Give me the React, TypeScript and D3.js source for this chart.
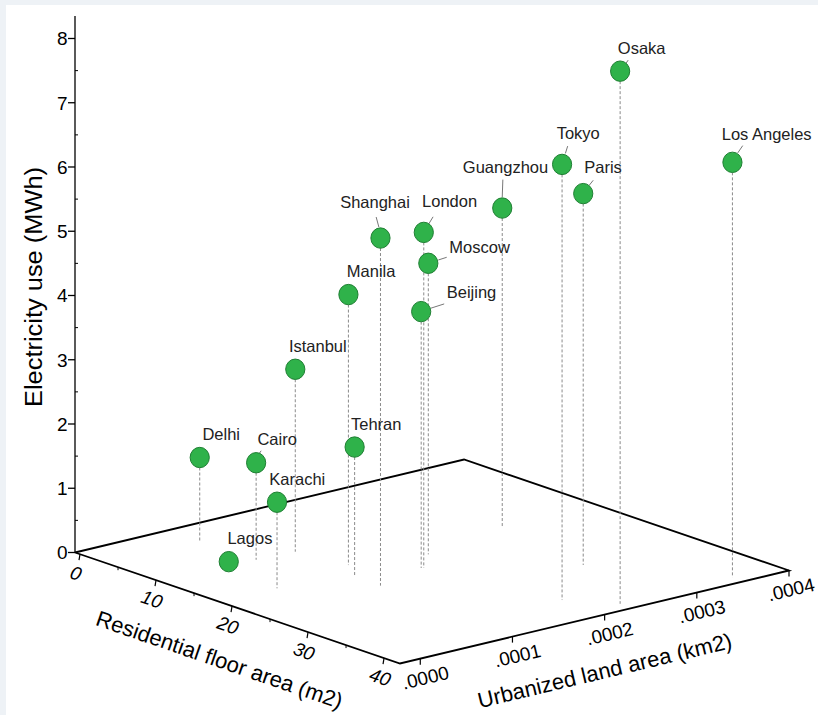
import React from "react";
import * as d3 from "d3";

// ---- data ----
const cities = ["Osaka", "Los Angeles", "Tokyo", "Paris", "Guangzhou", "London", "Moscow", "Beijing", "Shanghai", "Manila", "Istanbul", "Tehran", "Delhi", "Cairo", "Karachi", "Lagos"];
const floorArea = [40.5, 40.6, 36.5, 29.7, 16.5, 21.7, 18.9, 21.6, 23.4, 17.0, 11.1, 20.0, 3.5, 10.8, 18.4, 11.2];
const landArea = [0.00023, 0.000351, 0.0002, 0.000279, 0.0003, 0.000172, 0.0002, 0.00017, 0.000111, 0.000129, 0.00012, 0.000111, 0.000079, 0.00008, 0.00004, 0.000047];
const electricity = [8.29, 6.46, 6.78, 5.78, 4.95, 5.22, 4.53, 3.99, 5.41, 4.21, 2.84, 2.02, 1.3, 1.51, 1.34, 0.1];

const zTicks = [0, 1, 2, 3, 4, 5, 6, 7, 8];
const floorTicks = [0, 10, 20, 30, 40];
const landTicks = [0, 0.0001, 0.0002, 0.0003, 0.0004];
const landTickLabels = [".0000", ".0001", ".0002", ".0003", ".0004"];

// label layout (offsets from point, px): text start dx, baseline dy, optional leader
const labelLayout: { dx: number; dy: number; leader?: number[] }[] = [
  { dx: -2.3, dy: -16.7, leader: [6, -8, 8, -11] },
  { dx: -10.7, dy: -22.7, leader: [5.3, -9.4, 10.3, -16.7] },
  { dx: -5.4, dy: -25.3, leader: [3.3, -11, 5.6, -18.3] },
  { dx: 1, dy: -20.6, leader: [6, -8.3, 10, -13.3] },
  { dx: -39.4, dy: -35, leader: [0, -11, 0.6, -28.4] },
  { dx: -1.7, dy: -25, leader: [4.3, -7.3, 9.3, -15.6] },
  { dx: 21, dy: -10.6, leader: [10, -3.3, 18.4, -6] },
  { dx: 25.6, dy: -13.4, leader: [9.6, -3.4, 23, -7.7] },
  { dx: -40.3, dy: -30.4, leader: [-1.6, -11, -4.3, -21] },
  { dx: -1.6, dy: -17.6 },
  { dx: -6.4, dy: -17.6 },
  { dx: -3.6, dy: -16.7 },
  { dx: 2.7, dy: -17.3 },
  { dx: 1.3, dy: -17.7, leader: [3, -9, 5, -12] },
  { dx: -7.7, dy: -17.3 },
  { dx: -1.3, dy: -17.7 },
];

// ---- projection ----
const O = { x: 75, y: 552.5 };
const F = { x: 325, y: 111 };
const L = { x: 389, y: -93 };
const fScale = d3.scaleLinear().domain([-0.66, 42.1]).range([0, 1]);
const lScale = d3.scaleLinear().domain([-0.000022, 0.0004]).range([0, 1]);
const zScale = d3.scaleLinear().domain([0, 8.35]).range([0, 536.5]);

function proj(f: number, l: number, z: number): [number, number] {
  const u = fScale(f);
  const v = lScale(l);
  return [O.x + u * F.x + v * L.x, O.y + u * F.y + v * L.y - zScale(z)];
}

const FONT = "'Liberation Sans', Arial, Helvetica, sans-serif";

export default function App() {
  const fMin = fScale.domain()[0], fMax = fScale.domain()[1];
  const lMin = lScale.domain()[0], lMax = lScale.domain()[1];
  const c00 = proj(fMin, lMin, 0);
  const c10 = proj(fMax, lMin, 0);
  const c11 = proj(fMax, lMax, 0);
  const c01 = proj(fMin, lMax, 0);
  const zTop = proj(fMin, lMin, zScale.domain()[1]);
  const floorPath = d3.line()([c00, c10, c11, c01, c00]);

  const pts = cities.map((c, i) => ({
    name: c,
    top: proj(floorArea[i], landArea[i], electricity[i]),
    bot: proj(floorArea[i], landArea[i], 0),
    lay: labelLayout[i],
  }));

  const zMinor = d3.range(0.5, 8.5, 1);
  const fMinor = [5, 15, 25, 35];

  return (
    <svg width={818} height={715} style={{ position: "absolute", left: 0, top: 0 }} fontFamily={FONT}>
      <rect x={0} y={0} width={818} height={715} fill="#eef2f6" />
      <rect x={6} y={5} width={812} height={710} fill="#ffffff" />

      {/* floor outline */}
      <path d={floorPath || ""} fill="none" stroke="#000" strokeWidth={1.8} strokeLinejoin="miter" />

      {/* z axis */}
      <line x1={c00[0]} y1={c00[1]} x2={zTop[0]} y2={zTop[1]} stroke="#000" strokeWidth={1.3} />
      {zTicks.map((t) => {
        const p = proj(fMin, lMin, t);
        return (
          <g key={"zt" + t}>
            <line x1={p[0] - 7} y1={p[1]} x2={p[0]} y2={p[1]} stroke="#000" strokeWidth={1.3} />
            <text x={p[0] - 7.5} y={p[1]} dy="0.36em" textAnchor="end" fontSize={19} fill="#000">
              {t}
            </text>
          </g>
        );
      })}
      {zMinor.map((t) => {
        const p = proj(fMin, lMin, t);
        return <line key={"zm" + t} x1={p[0]} y1={p[1]} x2={p[0] + 3} y2={p[1]} stroke="#000" strokeWidth={1} />;
      })}

      {/* floor area axis ticks */}
      {floorTicks.map((t) => {
        const pa = proj(t, lMin, 0);
        return (
          <g key={"ft" + t}>
            <line x1={pa[0]} y1={pa[1]} x2={pa[0] - 1} y2={pa[1] + 6} stroke="#000" strokeWidth={1.2} />
            <text
              transform={`translate(${pa[0] - 4},${pa[1] + 19}) rotate(19)`}
              textAnchor="middle"
              dy="0.35em"
              fontSize={19}
              fontStyle="italic"
              fill="#000"
            >
              {t}
            </text>
          </g>
        );
      })}
      {fMinor.map((t) => {
        const pa = proj(t, lMin, 0);
        return <line key={"fm" + t} x1={pa[0]} y1={pa[1]} x2={pa[0]} y2={pa[1] + 3} stroke="#000" strokeWidth={1} />;
      })}

      {/* land area axis ticks */}
      {landTicks.map((t, i) => {
        const p = proj(fMax, t, 0);
        const shift = i === landTicks.length - 1 ? 2 : 5;
        return (
          <g key={"lt" + t}>
            <line x1={p[0]} y1={p[1]} x2={p[0]} y2={p[1] + 6} stroke="#000" strokeWidth={1.2} />
            <text
              transform={`translate(${p[0] + shift},${p[1] + 19}) rotate(-13.4)`}
              textAnchor="middle"
              dy="0.35em"
              fontSize={19}
              fill="#000"
            >
              {landTickLabels[i]}
            </text>
          </g>
        );
      })}

      {/* axis titles */}
      <text
        transform="translate(41.5,287) rotate(-90)"
        textAnchor="middle"
        fontSize={23}
        textLength={240}
        lengthAdjust="spacingAndGlyphs"
        fill="#000"
      >
        Electricity use (MWh)
      </text>
      <text transform="translate(217,667) rotate(19)" textAnchor="middle" fontSize={22} fill="#000">
        Residential floor area (m2)
      </text>
      <text transform="translate(606.5,678) rotate(-13.4)" textAnchor="middle" fontSize={22} fill="#000">
        Urbanized land area (km2)
      </text>

      {/* drop lines */}
      {pts.map((p) => (
        <line
          key={"d" + p.name}
          x1={p.top[0]}
          y1={p.top[1]}
          x2={p.bot[0]}
          y2={p.bot[1]}
          stroke="#8a8a8a"
          strokeWidth={1}
          strokeDasharray="3,2"
        />
      ))}

      {/* leaders */}
      {pts.map((p) =>
        p.lay.leader ? (
          <line
            key={"ld" + p.name}
            x1={p.top[0] + p.lay.leader[0]}
            y1={p.top[1] + p.lay.leader[1]}
            x2={p.top[0] + p.lay.leader[2]}
            y2={p.top[1] + p.lay.leader[3]}
            stroke="#777"
            strokeWidth={1}
          />
        ) : null
      )}

      {/* points */}
      {pts.map((p) => (
        <ellipse key={"c" + p.name} cx={p.top[0]} cy={p.top[1]} rx={9.6} ry={10.2} fill="#2fb24a" stroke="#1f7f33" strokeWidth={1} />
      ))}

      {/* labels */}
      {pts.map((p) => (
        <text key={"t" + p.name} x={p.top[0] + p.lay.dx} y={p.top[1] + p.lay.dy} fontSize={16.5} fill="#222">
          {p.name}
        </text>
      ))}
    </svg>
  );
}
